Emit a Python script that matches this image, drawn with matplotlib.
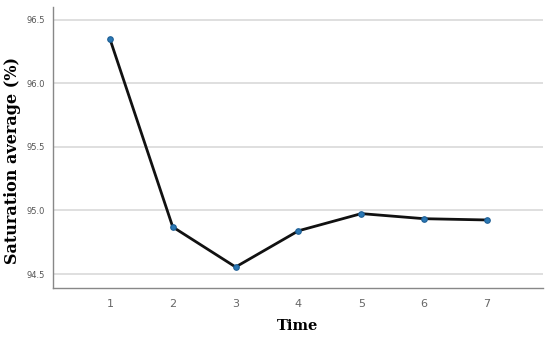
import matplotlib
matplotlib.use('Agg')
import matplotlib.pyplot as plt

# data
time = [1, 2, 3, 4, 5, 6, 7]
saturation = [96.35, 94.87, 94.555, 94.84, 94.975, 94.935, 94.925]
yticks = [94.5, 95.0, 95.5, 96.0, 96.5]

fig = plt.figure(figsize=(5.5, 3.39), dpi=100)
ax = fig.add_axes([53/550, 1 - 288/339, 490/550, 281/339])

ax.plot(time, saturation, c='#111111', lw=2, zorder=3,
        marker='o', ms=4, mfc='#2a78b5', mec='#1f5f95', mew=0.8)

ax.set_xlim(0.095, 7.89)
ax.set_ylim(94.39, 96.60)
ax.set_xticks(time)
ax.set_yticks(yticks)
ax.set_yticklabels([f'{y:.1f}' for y in yticks])
ax.tick_params(axis='x', length=0, labelsize=8, labelcolor='#666666', pad=8)
ax.tick_params(axis='y', length=0, labelsize=6, labelcolor='#555555', pad=6)

ax.grid(axis='y', color='#d9d9d9', lw=1.2)
ax.set_axisbelow(True)
for s in ['top', 'right']:
    ax.spines[s].set_visible(False)
for s in ['left', 'bottom']:
    ax.spines[s].set_color('#888888')
    ax.spines[s].set_linewidth(1)

ax.set_ylabel('Saturation average (%)', fontsize=11.5, fontweight='bold',
              family='DejaVu Serif')
ax.set_xlabel('Time', fontsize=10.5, fontweight='bold',
              family='DejaVu Serif', va='center')
ax.yaxis.set_label_coords(-0.066, 0.455)
ax.xaxis.set_label_coords(0.5, -0.135)

fig.savefig('out.png', dpi=100)
